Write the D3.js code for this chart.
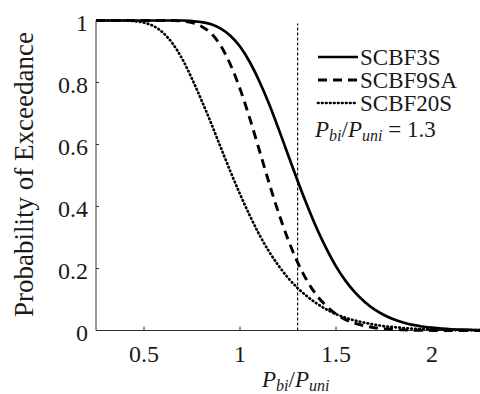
<!DOCTYPE html>
<html><head><meta charset="utf-8">
<script src="https://cdn.jsdelivr.net/npm/d3@7"></script>
<style>html,body{margin:0;padding:0;background:#fff;}svg{display:block;}
svg text{font-family:"Liberation Serif","DejaVu Serif","Times New Roman",Times,serif;}</style>
</head><body>
<script>
// ---- data ----
const pRatio = [0.25,0.30,0.35,0.40,0.45,0.50,0.55,0.60,0.65,0.70,0.75,0.80,0.85,0.90,0.95,1.00,1.05,1.10,1.15,1.20,1.25,1.30,1.35,1.40,1.45,1.50,1.55,1.60,1.65,1.70,1.75,1.80,1.85,1.90,1.95,2.00,2.05,2.10,2.15,2.20,2.25];
const scbf3s = [1,1,1,1,1,1,1,1,1,1,0.998,0.995,0.988,0.974,0.951,0.916,0.867,0.805,0.733,0.652,0.567,0.483,0.403,0.329,0.264,0.207,0.160,0.122,0.092,0.068,0.050,0.036,0.026,0.018,0.013,0.009,0.006,0.004,0.003,0.002,0.001];
const scbf9sa = [1,1,1,1,1,1,1,1,1,0.998,0.993,0.981,0.958,0.918,0.858,0.780,0.686,0.583,0.479,0.381,0.294,0.220,0.160,0.113,0.079,0.053,0.035,0.023,0.015,0.009,0.006,0.004,0.002,0.001,0.001,0,0,0,0,0,0];
const scbf20s = [1,1,1,1,0.998,0.993,0.982,0.960,0.925,0.875,0.812,0.742,0.668,0.590,0.513,0.440,0.372,0.310,0.256,0.210,0.170,0.137,0.110,0.087,0.068,0.053,0.041,0.032,0.025,0.019,0.014,0.011,0.008,0.006,0.005,0.004,0.003,0.002,0.001,0.001,0.001];
const seriesNames = ["SCBF3S","SCBF9SA","SCBF20S"];
const xTicks = [0.5,1,1.5,2];
const yTicks = [0,0.2,0.4,0.6,0.8,1];
const yTickLabels = ["0","0.2","0.4","0.6","0.8","1"];
const refRatio = 1.3;

// ---- layout ----
const W = 480, H = 394;
const svg = d3.select("body").append("svg").attr("width", W).attr("height", H);
const x = d3.scaleLinear().domain([0.25, 2.25]).range([96, 480]);
const y = d3.scaleLinear().domain([0, 1]).range([330.5, 20.5]);
const axisColor = "#333";
const txt = "#1a1a1a";

const defs = svg.append("defs");
defs.append("clipPath").attr("id","clip").append("rect")
  .attr("x", 96).attr("y", 14).attr("width", 384).attr("height", 320);

// axes lines
svg.append("line").attr("x1",96).attr("x2",480).attr("y1",y(0)).attr("y2",y(0))
  .attr("stroke",axisColor).attr("stroke-width",1);
svg.append("line").attr("x1",96).attr("x2",96).attr("y1",y(0)).attr("y2",y(1))
  .attr("stroke",axisColor).attr("stroke-width",1);

// x ticks (inward)
const gx = svg.append("g");
xTicks.forEach(t => {
  gx.append("line").attr("x1",x(t)).attr("x2",x(t)).attr("y1",y(0)).attr("y2",y(0)-4)
    .attr("stroke",axisColor).attr("stroke-width",1);
  gx.append("text").attr("x",x(t)).attr("y",362).attr("text-anchor","middle")
    .attr("font-size",24).attr("fill",txt).text(t);
});
// y ticks (inward)
const gy = svg.append("g");
yTicks.forEach((t,i) => {
  gy.append("line").attr("x1",96).attr("x2",99).attr("y1",y(t)).attr("y2",y(t))
    .attr("stroke",axisColor).attr("stroke-width",1);
  gy.append("text").attr("x",88).attr("y",y(t)+10).attr("text-anchor","end")
    .attr("font-size",24).attr("fill",txt).text(yTickLabels[i]);
});

// y label
svg.append("text").attr("transform","translate(33,174.5) rotate(-90)")
  .attr("text-anchor","middle").attr("font-size",27)
  .attr("fill",txt).text("Probability of Exceedance");

// x label
const xl = svg.append("text").attr("x",262).attr("y",387)
  .attr("font-size",23).attr("fill",txt);
xl.append("tspan").attr("font-style","italic").text("P");
xl.append("tspan").attr("font-style","italic").attr("font-size",16).attr("dy",4).text("bi");
xl.append("tspan").attr("dy",-4).text("/");
xl.append("tspan").attr("font-style","italic").text("P");
xl.append("tspan").attr("font-style","italic").attr("font-size",16).attr("dy",4).text("uni");

// reference vertical line
svg.append("line").attr("x1",x(refRatio)).attr("x2",x(refRatio)).attr("y1",y(0)).attr("y2",y(0.99))
  .attr("stroke","#111").attr("stroke-width",1.2).attr("stroke-dasharray","3,2");

// curves
const styles = [
  {w:2.7, dash:null, cap:"butt"},
  {w:2.9, dash:"9,6", cap:"butt"},
  {w:2.7, dash:"0.6,3.4", cap:"round"}
];
const allSeries = [scbf3s, scbf9sa, scbf20s];
const line = d3.line().x(d => x(d[0])).y(d => y(d[1])).curve(d3.curveMonotoneX);
const gc = svg.append("g").attr("clip-path","url(#clip)");
allSeries.forEach((s,i) => {
  const pts = pRatio.map((v,j) => [v, s[j]]);
  gc.append("path").datum(pts).attr("d", line).attr("fill","none")
    .attr("stroke","#000").attr("stroke-width",styles[i].w)
    .attr("stroke-linecap",styles[i].cap)
    .attr("stroke-dasharray",styles[i].dash);
});

// legend
const legY = [57, 80, 103];
seriesNames.forEach((n,i) => {
  svg.append("line").attr("x1",318).attr("x2",358).attr("y1",legY[i]).attr("y2",legY[i])
    .attr("stroke","#000").attr("stroke-width",styles[i].w)
    .attr("stroke-linecap",styles[i].cap)
    .attr("stroke-dasharray",styles[i].dash);
  svg.append("text").attr("x",360).attr("y",legY[i]+8)
    .attr("font-size",23).attr("fill",txt).text(n);
});
const ft = svg.append("text").attr("x",315).attr("y",137)
  .attr("font-size",23).attr("fill",txt);
ft.append("tspan").attr("font-style","italic").text("P");
ft.append("tspan").attr("font-style","italic").attr("font-size",16).attr("dy",4).text("bi");
ft.append("tspan").attr("dy",-4).text("/");
ft.append("tspan").attr("font-style","italic").text("P");
ft.append("tspan").attr("font-style","italic").attr("font-size",16).attr("dy",4).text("uni");
ft.append("tspan").attr("dy",-4).text(" = 1.3");
</script>
</body></html>
